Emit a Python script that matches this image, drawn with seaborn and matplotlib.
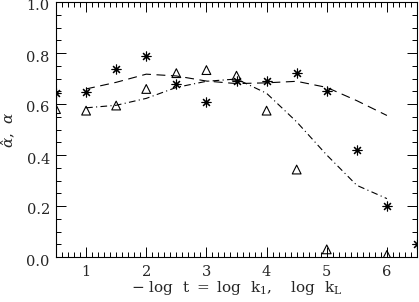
import numpy as np
import pandas as pd
import matplotlib
matplotlib.use("Agg")
import matplotlib.pyplot as plt
import matplotlib.transforms as mtrans
import seaborn as sns
from matplotlib.ticker import MultipleLocator

# data
star_x = [0.5, 1.0, 1.5, 2.0, 2.5, 3.0, 3.5, 4.0, 4.5, 5.0, 5.5, 6.0, 6.5]
star_y = [0.645, 0.648, 0.737, 0.789, 0.678, 0.609, 0.689, 0.691, 0.720, 0.652, 0.419, 0.200, 0.050]
tri_x = [0.5, 1.0, 1.5, 2.0, 2.5, 3.0, 3.5, 4.0, 4.5, 5.0, 6.0]
tri_y = [0.580, 0.574, 0.594, 0.659, 0.721, 0.733, 0.711, 0.574, 0.343, 0.030, 0.008]
dash_x = [1.0, 1.5, 2.0, 2.5, 3.0, 3.5, 4.0, 4.5, 5.0, 5.5, 6.0]
dash_y = [0.659, 0.685, 0.717, 0.710, 0.690, 0.680, 0.683, 0.689, 0.665, 0.613, 0.555]
dd_x = [1.0, 1.5, 2.0, 2.5, 3.0, 3.5, 4.0, 4.5, 5.0, 5.5, 6.0]
dd_y = [0.585, 0.595, 0.622, 0.665, 0.689, 0.698, 0.642, 0.530, 0.400, 0.281, 0.229]
xticks = [1, 2, 3, 4, 5, 6]
yticks = [0.0, 0.2, 0.4, 0.6, 0.8, 1.0]

sns.set_style("ticks")
plt.rcParams['font.family'] = ['DejaVu Serif']
plt.rcParams['mathtext.fontset'] = 'dejavuserif'

fig = plt.figure(figsize=(4.19, 3.02), dpi=100)
ax = fig.add_axes([56/419, 1-257/302, 361/419, 255/302])

sns.lineplot(x=dash_x, y=dash_y, ax=ax, color='black', lw=0.8,
             linestyle=(0, (8, 5)))
sns.lineplot(x=dd_x, y=dd_y, ax=ax, color='black', lw=0.8,
             linestyle=(0, (6, 3, 1, 3)))
ax.plot(star_x, star_y, linestyle='none', marker=(8, 2, 0), ms=7,
        mec='black', mew=0.8, color='black', clip_on=True)
sns.scatterplot(x=tri_x, y=tri_y, ax=ax, marker='^', s=40,
                facecolor='none', edgecolor='black', linewidth=0.8)

ax.set_xlim(0.5, 6.5)
ax.set_ylim(0.0, 1.0)
ax.set_xticks(xticks)
ax.set_xticklabels([str(v) for v in xticks])
ax.set_yticks(yticks)
ax.set_yticklabels([f"{v:.1f}" for v in yticks])
ax.xaxis.set_minor_locator(MultipleLocator(0.1))
ax.yaxis.set_minor_locator(MultipleLocator(0.05))
ax.tick_params(which='both', direction='in', top=True, right=True,
               color='black', width=0.7, labelsize=10.5)
ax.tick_params(which='major', length=7)
ax.tick_params(axis='y', which='major', pad=4.5)
ax.tick_params(axis='x', which='major', pad=6)
ax.tick_params(which='minor', length=3.5)
for s in ax.spines.values():
    s.set_linewidth(0.8)
    s.set_color('black')

# shift y tick labels slightly down, as in the reference
off = mtrans.ScaledTranslation(0, -3/100, fig.dpi_scale_trans)
for lab in ax.get_yticklabels():
    lab.set_transform(lab.get_transform() + off)

ax.set_xlabel(r"$-$ log  t $=$ log  k$_1$,    log  k$_\mathrm{L}$",
              fontsize=11, labelpad=0)
ax.set_ylabel(r"$\hat{\alpha}$,  $\alpha$", fontsize=11, labelpad=6)

fig.savefig("out.png", dpi=100)
